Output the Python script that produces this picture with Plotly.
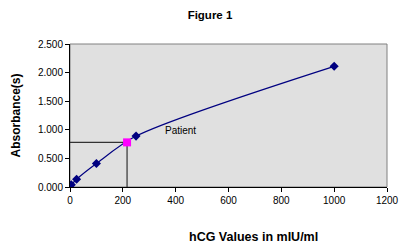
import plotly.graph_objects as go

# Standard curve data
hcg = [0, 5, 25, 100, 250, 1000]
absorbance = [0.02, 0.04, 0.135, 0.41, 0.89, 2.11]

# Patient point
patient_x = [216]
patient_y = [0.78]

x_ticks = [0, 200, 400, 600, 800, 1000, 1200]
y_ticks = [0, 0.5, 1.0, 1.5, 2.0, 2.5]

FONT = "Liberation Sans, Arial, sans-serif"

fig = go.Figure()

# drop lines from patient point
fig.add_trace(go.Scatter(
    x=[0, patient_x[0], patient_x[0]], y=[patient_y[0], patient_y[0], 0],
    mode="lines", line=dict(color="#333333", width=1.2),
    hoverinfo="skip", showlegend=False))

fig.add_trace(go.Scatter(
    x=hcg, y=absorbance, mode="lines+markers",
    line=dict(color="#000080", width=1.2, shape="spline", smoothing=0.8),
    marker=dict(symbol="diamond", size=7, color="#000080"),
    showlegend=False))

fig.add_trace(go.Scatter(
    x=patient_x, y=patient_y, mode="markers",
    marker=dict(symbol="square", size=8, color="#FF00FF"),
    showlegend=False))

fig.add_annotation(x=420, y=0.98, text="Patient", showarrow=False,
                   font=dict(family=FONT, size=10, color="black"))

# plot-area frame (grey)
fig.add_shape(type="rect", xref="paper", yref="paper", x0=0, y0=0, x1=1, y1=1,
              line=dict(color="#808080", width=1), layer="below")

fig.add_annotation(xref="paper", yref="paper", x=(253 - 70) / 317, y=-(237 - 187) / 143,
                   text="<b>hCG Values in mIU/ml</b>", showarrow=False,
                   font=dict(family=FONT, size=12.5, color="black"),
                   xanchor="center", yanchor="middle")

fig.update_layout(
    width=400, height=243,
    margin=dict(l=70, r=13, t=44, b=56),
    paper_bgcolor="white", plot_bgcolor="#E0E0E0",
    title=dict(text="<b>Figure 1</b>", xref="container", x=0.525, yref="container",
               y=1 - 15 / 243, xanchor="center", yanchor="middle",
               font=dict(family=FONT, size=11.5, color="black")),
    font=dict(family=FONT, size=10, color="black"),
)

fig.update_xaxes(range=[0, 1200], tickvals=x_ticks, ticktext=[str(v) for v in x_ticks],
                 showgrid=False, zeroline=False, showline=True, linecolor="black",
                 linewidth=1, ticks="outside", ticklen=4, tickcolor="black",
                 automargin=False, tickfont=dict(family=FONT, size=10))
fig.update_yaxes(range=[0, 2.5], tickvals=y_ticks, tickformat=".3f",
                 showgrid=False, zeroline=False, showline=True, linecolor="black",
                 linewidth=1, ticks="outside", ticklen=4, tickcolor="black",
                 automargin=False, tickfont=dict(family=FONT, size=10),
                 title=dict(text="<b>Absorbance(s)</b>", standoff=14,
                            font=dict(family=FONT, size=12)))

fig.write_html("out.html", config={"displayModeBar": False},
               post_script="document.body.style.margin='0';")
